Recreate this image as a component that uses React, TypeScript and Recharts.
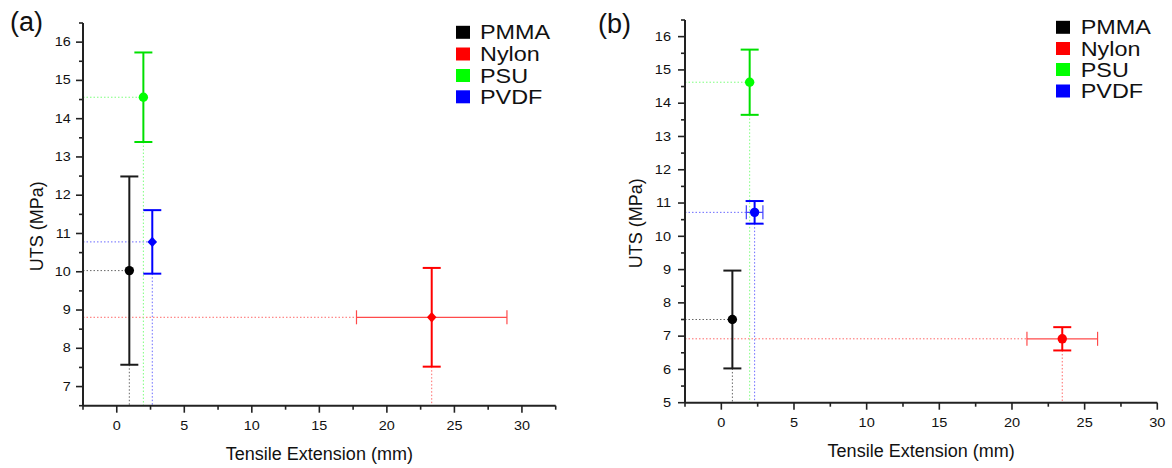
import React from 'react';
import { ScatterChart, Scatter, XAxis, YAxis, ErrorBar, ReferenceLine, Label } from 'recharts';

// ---- data ----
const materials = ['PMMA', 'Nylon', 'PSU', 'PVDF'];
const colors = ['#000000', '#ff0000', '#00ff00', '#0000ff'];
const barColors = ['#1a1a1a', '#ff0000', '#00e000', '#0000ff'];
const xBarColors = ['#555555', '#ff4a4a', '#40ff40', '#4040ff'];
const dropColors = ['#666666', '#ff6a6a', '#7dff7d', '#6a6aff'];

// panel (a)
const extA = [0.93, 23.32, 1.97, 2.63];
const extErrA = [0, 5.57, 0, 0];
const utsA = [10.03, 8.81, 14.56, 10.78];
const utsErrA = [2.46, 1.29, 1.17, 0.83];
const shapesA = ['circle', 'diamond', 'circle', 'diamond'];

// panel (b)
const extB = [0.76, 23.46, 1.95, 2.29];
const extErrB = [0, 2.43, 0, 0.57];
const utsB = [7.5, 6.92, 14.63, 10.72];
const utsErrB = [1.47, 0.35, 0.98, 0.34];
const shapesB = ['circle', 'circle', 'circle', 'circle'];

// axes
const xDomainA = [-2.5, 32.5];
const yDomainA = [6.5, 16.5];
const xTicksA = [-2.5, 0, 2.5, 5, 7.5, 10, 12.5, 15, 17.5, 20, 22.5, 25, 27.5, 30, 32.5];
const yTicksA = [6.5, 7, 7.5, 8, 8.5, 9, 9.5, 10, 10.5, 11, 11.5, 12, 12.5, 13, 13.5, 14, 14.5, 15, 15.5, 16, 16.5];

const xDomainB = [-2.5, 30];
const yDomainB = [5, 16.5];
const xTicksB = [-2.5, 0, 2.5, 5, 7.5, 10, 12.5, 15, 17.5, 20, 22.5, 25, 27.5, 30];
const yTicksB = [5, 5.5, 6, 6.5, 7, 7.5, 8, 8.5, 9, 9.5, 10, 10.5, 11, 11.5, 12, 12.5, 13, 13.5, 14, 14.5, 15, 15.5, 16, 16.5];

const FONT = '"Liberation Sans", Arial, Helvetica, sans-serif';
const AXIS = '#222222';

function XTick(props: any) {
  const { x, y, payload, fs, sx } = props;
  const v = payload.value;
  const major = Math.abs(v % 5) < 1e-9;
  return (
    <g>
      <line x1={x} x2={x} y1={y} y2={y + (major ? 7 : 4)} stroke={AXIS} strokeWidth={1.6} />
      {major && (
        <text transform={`translate(${x},${y + 24}) scale(${sx},1)`} textAnchor="middle" fontSize={fs} fontFamily={FONT} fill="#111">
          {v}
        </text>
      )}
    </g>
  );
}

function YTick(props: any) {
  const { x, y, payload, fs, sx, gap } = props;
  const v = payload.value;
  const major = Math.abs(v % 1) < 1e-9;
  return (
    <g>
      <line x1={x} x2={x - (major ? 7 : 4)} y1={y} y2={y} stroke={AXIS} strokeWidth={1.6} />
      {major && (
        <text transform={`translate(${x - gap},${y}) scale(${sx},1)`} textAnchor="end" dominantBaseline="central" fontSize={fs} fontFamily={FONT} fill="#111">
          {v}
        </text>
      )}
    </g>
  );
}

function makeShape(kind: string, color: string) {
  return (p: any) => {
    const { cx, cy } = p;
    if (cx == null || cy == null) return <g />;
    if (kind === 'diamond') {
      return <path d={`M${cx},${cy - 5.2}L${cx + 4.8},${cy}L${cx},${cy + 5.2}L${cx - 4.8},${cy}Z`} fill={color} />;
    }
    return <circle cx={cx} cy={cy} r={4.7} fill={color} />;
  };
}

type PanelProps = {
  left: number;
  width: number;
  margin: any;
  yAxisWidth: number;
  xAxisHeight: number;
  ext: number[];
  extErr: number[];
  uts: number[];
  utsErr: number[];
  shapes: string[];
  xDomain: number[];
  yDomain: number[];
  xTicks: number[];
  yTicks: number[];
  tickFs: number;
  tickSx: number;
  yGap: number;
  xLabelOffset: number;
  yLabelX: number;
};

function Panel(p: PanelProps) {
  return (
    <div style={{ position: 'absolute', left: p.left, top: 0 }}>
      <ScatterChart width={p.width} height={468} margin={p.margin}>
        <XAxis
          type="number"
          dataKey="x"
          domain={p.xDomain}
          ticks={p.xTicks}
          allowDataOverflow
          height={p.xAxisHeight}
          tickLine={false}
          tickSize={0}
          tickMargin={0}
          interval={0}
          axisLine={{ stroke: AXIS, strokeWidth: 2 }}
          tick={(t: any) => <XTick {...t} fs={p.tickFs} sx={p.tickSx} />}
        >
          <Label value="Tensile Extension (mm)" position="insideBottom" offset={p.xLabelOffset} fontSize={18} fontFamily={FONT} fill="#111" />
        </XAxis>
        <YAxis
          type="number"
          dataKey="y"
          domain={p.yDomain}
          ticks={p.yTicks}
          allowDataOverflow
          width={p.yAxisWidth}
          tickLine={false}
          tickSize={0}
          tickMargin={0}
          interval={0}
          axisLine={{ stroke: AXIS, strokeWidth: 2 }}
          tick={(t: any) => <YTick {...t} fs={p.tickFs} sx={p.tickSx} gap={p.yGap} />}
        >
          <Label
            content={(lp: any) => {
              const vb = lp.viewBox || {};
              const cy = (vb.y ?? 20) + (vb.height ?? 380) / 2 + 12;
              const cx = p.yLabelX;
              return (
                <text transform={`translate(${cx},${cy}) rotate(-90)`} textAnchor="middle" dominantBaseline="central" fontSize={18} fontFamily={FONT} fill="#111">
                  UTS (MPa)
                </text>
              );
            }}
          />
        </YAxis>
        {materials.map((m, i) => (
          <ReferenceLine
            key={'h' + m}
            segment={[
              { x: p.xDomain[0], y: p.uts[i] },
              { x: p.ext[i] - p.extErr[i], y: p.uts[i] },
            ]}
            stroke={dropColors[i]}
            strokeWidth={1}
            strokeDasharray="1.5 2"
            ifOverflow="visible"
          />
        ))}
        {materials.map((m, i) => (
          <ReferenceLine
            key={'v' + m}
            segment={[
              { x: p.ext[i], y: p.uts[i] - p.utsErr[i] },
              { x: p.ext[i], y: p.yDomain[0] },
            ]}
            stroke={dropColors[i]}
            strokeWidth={1}
            strokeDasharray="1.5 2"
            ifOverflow="visible"
          />
        ))}
        {materials.map((m, i) => (
          <Scatter
            key={m}
            name={m}
            data={[{ x: p.ext[i], y: p.uts[i], ex: p.extErr[i], ey: p.utsErr[i] }]}
            fill={colors[i]}
            isAnimationActive={false}
            shape={makeShape(p.shapes[i], colors[i])}
          >
            <ErrorBar dataKey="ey" direction="y" width={9} stroke={barColors[i]} strokeWidth={2} isAnimationActive={false} />
            {p.extErr[i] > 0 && (
              <ErrorBar dataKey="ex" direction="x" width={7} stroke={xBarColors[i]} strokeWidth={1.2} isAnimationActive={false} />
            )}
          </Scatter>
        ))}
      </ScatterChart>
    </div>
  );
}

function LegendBlock({ boxX, textX, rowYs }: { boxX: number; textX: number; rowYs: number[] }) {
  return (
    <g>
      {materials.map((m, i) => (
        <g key={m}>
          <rect x={boxX} y={rowYs[i] - 6.5} width={14} height={13} fill={colors[i]} />
          <text transform={`translate(${textX},${rowYs[i] + 7}) scale(1.17,1)`} fontSize={20} fontFamily={FONT} fill="#111">
            {m}
          </text>
        </g>
      ))}
    </g>
  );
}

export default function App() {
  return (
    <div style={{ position: 'absolute', left: 0, top: 0, width: 1172, height: 468, background: '#fff', overflow: 'hidden' }}>
      <Panel
        left={0}
        width={590}
        margin={{ top: 23, right: 34.3, bottom: 0, left: 0 }}
        yAxisWidth={83}
        xAxisHeight={62.3}
        ext={extA}
        extErr={extErrA}
        uts={utsA}
        utsErr={utsErrA}
        shapes={shapesA}
        xDomain={xDomainA}
        yDomain={yDomainA}
        xTicks={xTicksA}
        yTicks={yTicksA}
        tickFs={12}
        tickSx={1.2}
        yGap={12.3}
        xLabelOffset={8}
        yLabelX={36.5}
      />
      <Panel
        left={590}
        width={582}
        margin={{ top: 20, right: 14.7, bottom: 0, left: 0 }}
        yAxisWidth={95}
        xAxisHeight={65.3}
        ext={extB}
        extErr={extErrB}
        uts={utsB}
        utsErr={utsErrB}
        shapes={shapesB}
        xDomain={xDomainB}
        yDomain={yDomainB}
        xTicks={xTicksB}
        yTicks={yTicksB}
        tickFs={13}
        tickSx={1.12}
        yGap={14}
        xLabelOffset={11}
        yLabelX={46}
      />
      <svg width={1172} height={468} style={{ position: 'absolute', left: 0, top: 0, pointerEvents: 'none' }}>
        <text x={10} y={31} fontSize={27} fontFamily={FONT} fill="#111">(a)</text>
        <text x={598} y={32.5} fontSize={27} fontFamily={FONT} fill="#111">(b)</text>
        <LegendBlock boxX={456} textX={480} rowYs={[32.3, 54, 75.5, 96.8]} />
        <LegendBlock boxX={1056} textX={1080.7} rowYs={[27.3, 48.5, 69.5, 91]} />
      </svg>
    </div>
  );
}
